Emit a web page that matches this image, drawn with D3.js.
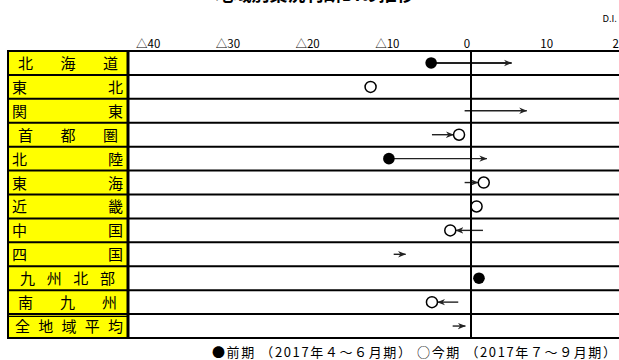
<!DOCTYPE html>
<html>
<head>
<meta charset="utf-8">
<script src="https://cdn.jsdelivr.net/npm/d3@7/dist/d3.min.js"></script>
<style>
  html, body { margin: 0; padding: 0; background: #fff; }
  svg { display: block; }
  text { font-family: "Noto Sans CJK JP", "Noto Sans", sans-serif; }
</style>
</head>
<body>
<svg id="chart" width="619" height="360"></svg>
<script>
// Regions (row labels)
const regions = ["北海道", "東北", "関東", "首都圏", "北陸", "東海", "近畿", "中国", "四国", "九州北部", "南九州", "全地域平均"];
// 前期 D.I. (filled dot)
const prevDI = [-5, null, null, null, -10.3, null, null, null, null, 1.0, null, null];
// 今期 D.I. (open dot)
const currDI = [null, -12.6, null, -1.5, null, 1.6, 0.7, -2.6, null, null, -4.9, null];
// Direction-of-change arrows
const arrowFrom = [-5, null, -0.8, -4.9, -10.3, -0.8, null, 1.5, -9.7, null, -1.6, -2.3];
const arrowTo   = [5.1, null, 7.0, -1.5, 2.0, 1.6, null, -2.6, -8.2, null, -4.9, -0.7];
// Axis tick values and labels
const tickValues = [-40, -30, -20, -10, 0, 10, 20];
const tickLabels = ["△40", "△30", "△20", "△10", "0", "10", "20"];
const titleText = "地域別業況判断DIの推移";
const unitText = "D.I.";
const legendText = "●前期 （2017年４～６月期） ○今期 （2017年７～９月期）";

// Label cell text span (left/right of first/last glyph) per row
const labelInset = [[18, 118], [12, 123], [12, 123], [18, 118], [12, 123], [12, 123],
                    [12, 123], [12, 123], [12, 123], [20, 115], [18, 117], [15, 123]];

const svg = d3.select("#chart");
const W = 619, H = 360;
const panelL = 8, panelR = 128, plotTop = 51, plotBottom = 338;
const R = 5.5;

const x = d3.scaleLinear().domain([-40, 20]).range([152.2, 630.4]);
const y = d3.scaleBand().domain(regions).range([plotTop, plotBottom]).padding(0);

svg.append("rect").attr("width", W).attr("height", H).attr("fill", "#fff");

// Title (sits above the visible area)
svg.append("text").attr("x", 315).attr("y", 1).attr("text-anchor", "middle")
  .attr("font-size", 18).attr("font-weight", "bold").text(titleText);

svg.append("text").attr("x", 617).attr("y", 22).attr("text-anchor", "end")
  .attr("font-size", 9.5).attr("font-family", "DejaVu Sans Mono, monospace").text(unitText);

// Tick labels (the last one runs off the right edge)
svg.append("g").selectAll("text").data(tickValues).join("text")
  .attr("x", d => Math.min(x(d) - 4, W)).attr("y", 48).attr("text-anchor", "middle")
  .attr("font-size", 11.5).attr("fill", "#000")
  .text((d, i) => tickLabels[i]);

// Yellow label cells
svg.append("g").selectAll("rect").data(regions).join("rect")
  .attr("x", panelL).attr("y", d => y(d)).attr("width", panelR - panelL).attr("height", y.bandwidth())
  .attr("fill", "#ffff00");

// Row labels, glyphs spread across the cell
const lab = svg.append("g");
regions.forEach((r, i) => {
  const chars = Array.from(r);
  const fs = 15;
  const pos = d3.scalePoint().domain(d3.range(chars.length))
    .range([labelInset[i][0] + fs / 2, labelInset[i][1] - fs / 2]);
  lab.append("g").selectAll("text").data(chars).join("text")
    .attr("x", (c, j) => pos(j)).attr("y", y(r) + y.bandwidth() / 2 + 6)
    .attr("text-anchor", "middle").attr("font-size", fs).attr("fill", "#000")
    .text(c => c);
});

// Row rules
const rows = svg.append("g").attr("stroke", "#000").attr("stroke-width", 2);
const bounds = regions.map(r => y(r)).concat([plotBottom]);
rows.selectAll("line.rule").data(bounds).join("line").attr("class", "rule")
  .attr("x1", panelL).attr("x2", W).attr("y1", d => d).attr("y2", d => d);
// double rule above the all-region average
rows.append("line").attr("x1", panelL).attr("x2", panelR)
  .attr("y1", y(regions[11]) + 2.2).attr("y2", y(regions[11]) + 2.2).attr("stroke-width", 1.2);
rows.append("line").attr("x1", panelL).attr("x2", panelL).attr("y1", plotTop - 1).attr("y2", plotBottom + 1);
rows.append("line").attr("x1", panelR).attr("x2", panelR).attr("y1", plotTop - 1).attr("y2", plotBottom + 1)
  .attr("stroke-width", 3);

// Arrow marker
svg.append("defs").append("marker")
  .attr("id", "ah").attr("markerUnits", "userSpaceOnUse")
  .attr("viewBox", "0 0 10 10").attr("refX", 9.5).attr("refY", 5)
  .attr("markerWidth", 8).attr("markerHeight", 8).attr("orient", "auto")
  .append("path").attr("d", "M0,1 L10,5 L0,9 L3,5 Z").attr("fill", "#222");

const cy = d => y(d) + y.bandwidth() / 2;
const arrows = regions.map((r, i) => ({ r, i, from: arrowFrom[i], to: arrowTo[i] }))
  .filter(d => d.from != null && d.to != null);
svg.append("g").selectAll("line").data(arrows).join("line")
  .attr("x1", d => x(d.from))
  .attr("x2", d => {
    const end = x(d.to);
    if (currDI[d.i] != null && currDI[d.i] === d.to) return end + (d.to > d.from ? -R : R);
    return end;
  })
  .attr("y1", d => cy(d.r)).attr("y2", d => cy(d.r))
  .attr("stroke", "#222").attr("stroke-width", d => d.i === 0 ? 2 : 1.4)
  .attr("marker-end", "url(#ah)");

// 前期 dots
svg.append("g").selectAll("circle")
  .data(regions.map((r, i) => ({ r, v: prevDI[i] })).filter(d => d.v != null))
  .join("circle").attr("cx", d => x(d.v)).attr("cy", d => cy(d.r)).attr("r", R + 0.3)
  .attr("fill", "#000");

// 今期 dots
svg.append("g").selectAll("circle")
  .data(regions.map((r, i) => ({ r, v: currDI[i] })).filter(d => d.v != null))
  .join("circle").attr("cx", d => x(d.v)).attr("cy", d => cy(d.r)).attr("r", R)
  .attr("fill", "#fff").attr("stroke", "#000").attr("stroke-width", 1.5);

// Zero line
svg.append("line").attr("x1", x(0)).attr("x2", x(0)).attr("y1", plotTop).attr("y2", plotBottom)
  .attr("stroke", "#000").attr("stroke-width", 2);

// Legend
svg.append("text").attr("x", 212).attr("y", 357).attr("font-size", 13)
  .attr("textLength", 404).attr("lengthAdjust", "spacing").attr("fill", "#000")
  .text(legendText);
</script>
</body>
</html>
